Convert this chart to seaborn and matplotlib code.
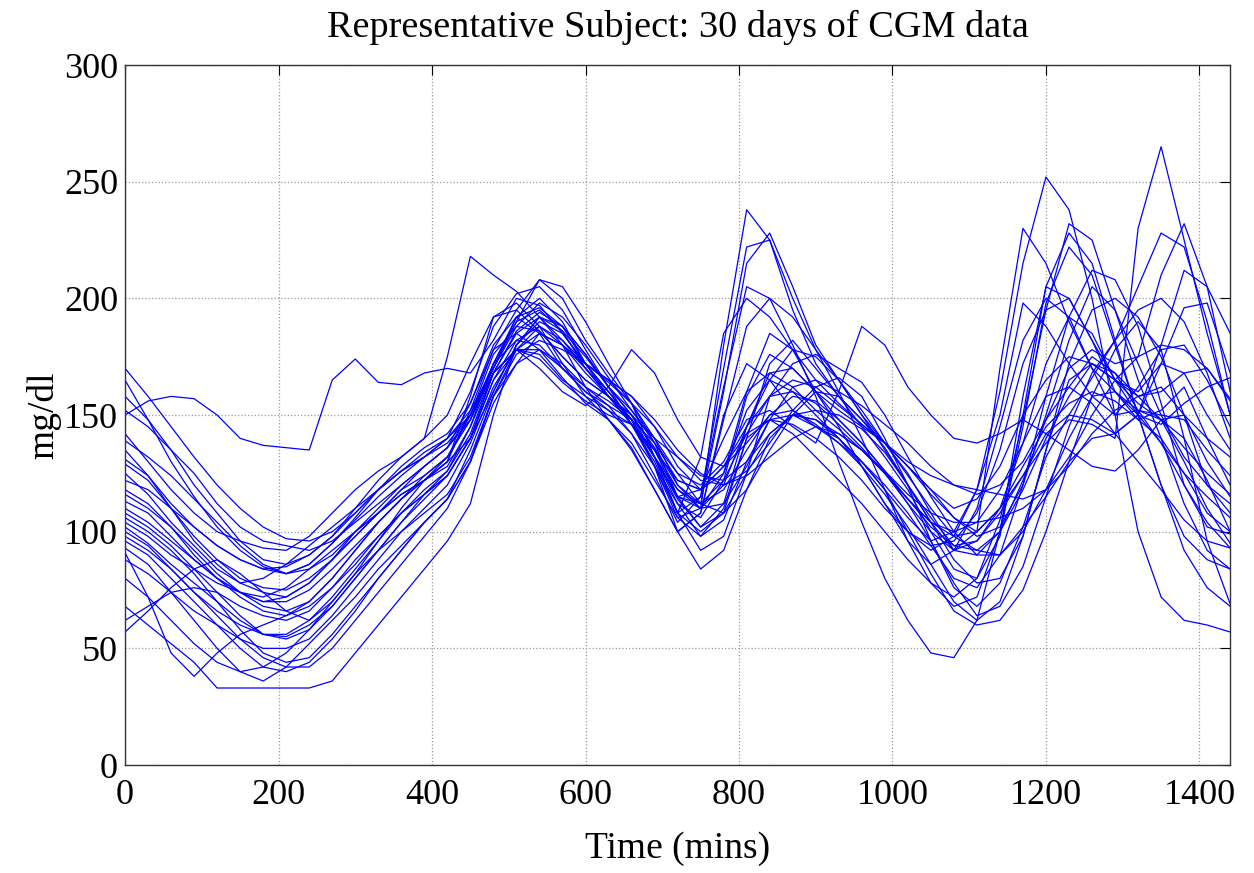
import numpy as np
import pandas as pd
import matplotlib
matplotlib.use("Agg")
import matplotlib.pyplot as plt
import seaborn as sns

# time grid (mins), one reading every 30 mins
time_mins = list(range(0, 1441, 30))

# glucose readings (mg/dl), one list per day
day01 = [170,158,145,132,120,110,102,97, 96,100,108,118,128,136,142,155, 180,192,185,170,160,152,142,128,
         112,106,122,158,176,170,160,152, 145,138,128,116,106,100,110,138, 172,192,185,165,150,146,155,162, 166]
day02 = [150,156,158,157,150,140,137,136, 135,165,174,164,163,168,170,168, 182,200,197,185,172,165,158,145,
         128,118,125,160,185,178,165,155, 146,138,128,118,110,114,128,150, 165,175,172,165,160,172,168,150, 135]
day03 = [165,148,130,115,102,92,85,82, 86,95,105,115,124,132,140,152, 170,190,208,200,182,168,155,138,
         115,102,108,140,172,182,170,158, 148,138,128,118,106,98,102,120, 150,182,205,195,172,150,132,120, 112]
day04 = [158,148,135,120,108,96,88,86, 90,98,110,122,132,140,150,172, 192,195,186,175,165,158,150,135,
         115,112,160,215,228,205,180,165, 150,138,125,108,92,100,170,230, 215,190,170,160,150,138,125,115, 106]
day05 = [152,145,135,125,112,102,96,94, 92,96,104,112,120,128,136,148, 168,178,178,170,162,156,148,132,
         118,110,112,128,148,162,165,160, 154,146,138,128,120,116,120,130, 148,162,175,168,158,160,168,170, 156]
day06 = [142,130,118,108,100,96,93,92, 98,108,118,126,132,140,175,218, 210,203,192,182,172,165,155,140,
         120,110,125,152,165,160,150,140, 130,118,106,96,100,118,150,198, 188,172,158,150,162,178,180,165, 145]
day07 = [139,132,124,114,104,94,86,82, 84,90,100,108,116,122,130,140, 160,180,192,188,176,162,152,140,
         125,112,108,118,135,150,160,158, 148,136,120,104,92,90,100,122, 148,170,178,172,175,210,232,205, 160]
day08 = [135,124,110,96,86,78,74,72, 78,88,100,110,120,128,136,155, 178,185,178,166,155,148,138,122,
         106,110,180,238,225,195,172,158, 145,132,118,100,84,80,98,150, 205,200,182,160,148,152,162,140, 120]
day09 = [131,124,112,102,94,88,84,82, 86,95,106,118,126,132,138,150, 170,192,200,190,172,158,146,132,
         114,102,112,145,168,170,160,148, 138,126,114,104,98,100,110,124, 138,148,146,140,230,265,225,185, 150]
day10 = [129,122,110,98,88,80,76,75, 80,88,98,108,118,128,136,150, 172,190,195,186,170,158,146,130,
         108,115,162,205,200,180,158,130, 104,80,62,48,46,62,100,158, 205,228,215,182,150,120,92,76, 68]
day11 = [125,116,104,94,84,78,80,86, 94,102,110,118,126,132,140,160, 188,202,205,195,178,162,146,128,
         108,132,185,200,192,178,160,145, 128,112,100,92,98,118,160,215, 252,238,200,150,100,72,62,60, 57]
day12 = [122,118,110,102,94,88,84,85, 90,98,108,118,126,134,140,150, 168,178,176,165,158,152,146,135,
         122,118,128,145,158,165,162,154, 146,138,130,124,120,118,116,114, 118,128,142,152,158,162,150,140, 132]
day13 = [118,112,102,90,80,72,66,64, 70,80,92,104,114,122,130,158, 192,198,188,172,158,148,136,118,
         100,108,148,188,200,192,178,165, 152,138,124,110,98,92,90,100, 118,140,158,160,152,150,148,135, 124]
day14 = [116,110,102,92,82,74,70,72, 78,88,98,108,118,124,132,150, 176,188,186,175,165,158,150,140,
         132,122,120,126,138,152,162,166, 158,140,120,96,76,68,78,102, 132,150,166,182,205,228,222,190, 150]
day15 = [113,108,98,88,80,74,68,66, 70,80,92,104,114,122,130,152, 178,195,208,205,190,172,155,132,
         108,100,108,125,142,150,148,142, 135,125,112,96,78,64,68,85, 115,145,168,182,195,200,190,168, 140]
day16 = [110,104,96,88,80,74,72,76, 84,92,100,108,116,122,128,145, 168,178,174,164,156,150,146,135,
         118,112,122,142,158,160,155,146, 136,125,114,104,100,104,118,138, 158,162,155,142,130,118,105,96, 93]
day17 = [108,102,94,84,74,64,56,54, 58,68,80,92,104,114,124,140, 165,178,170,160,154,162,178,168,
         148,132,128,138,150,152,146,138, 130,120,108,94,80,76,90,120, 158,192,212,208,188,155,120,102, 99]
day18 = [106,100,92,82,70,58,48,44, 46,56,68,80,92,104,114,135, 160,180,190,185,172,160,148,132,
         115,110,120,145,165,178,175,165, 150,135,120,104,88,78,80,98, 135,172,195,200,192,175,150,120, 108]
day19 = [104,98,90,84,78,74,70,70, 75,84,94,104,114,124,132,148, 172,182,180,170,160,154,148,138,
         125,120,130,148,152,145,138,160, 188,180,162,150,140,138,142,148, 142,135,128,126,135,148,150,130, 115]
day20 = [102,95,86,78,70,62,56,55, 60,68,80,92,104,116,126,145, 172,192,196,188,172,160,148,128,
         106,98,110,140,148,142,132,122, 112,100,88,78,72,80,105,148, 195,232,225,195,165,140,112,92, 84]
day21 = [100,94,84,74,64,54,46,42, 42,50,62,74,86,98,110,130, 158,178,188,182,170,158,148,132,
         112,98,105,130,148,150,145,138, 128,116,102,86,70,62,70,98, 135,165,172,165,155,148,140,122, 100]
day22 = [98,92,84,74,66,60,56,56, 62,72,84,96,108,118,126,142, 168,185,192,186,175,162,150,132,
         108,92,98,125,158,172,176,170, 164,150,132,115,100,90,90,102, 115,130,140,142,150,180,212,205, 185]
day23 = [96,90,80,70,60,50,42,40, 44,54,66,80,92,104,114,130, 155,172,185,180,170,160,148,128,
         100,84,92,118,140,150,152,150, 144,134,120,106,94,92,100,118, 140,158,172,168,152,138,120,104, 93]
day24 = [93,86,74,62,50,40,36,42, 52,62,72,84,94,104,114,130, 158,172,178,172,162,154,142,124,
         104,115,170,222,225,200,178,160, 140,118,96,78,68,72,100,145, 198,222,210,180,150,120,98,88, 84]
day25 = [91,72,48,38,48,56,60,64, 68,76,86,98,108,116,124,140, 165,182,188,180,168,158,148,132,
         115,118,140,160,168,162,152,144, 135,125,114,102,94,96,108,124, 142,150,148,142,150,172,196,198, 168]
day26 = [88,82,74,66,60,54,50,50, 54,64,76,88,100,110,120,138, 162,178,185,180,172,164,155,145,
         132,124,122,130,142,150,148,140, 130,118,100,82,66,60,62,75, 100,130,158,178,190,178,140,96, 69]
day27 = [80,72,62,52,44,40,42,48, 58,70,82,92,100,108,116,132, 158,176,182,178,172,165,158,148,
         135,125,120,124,132,140,145,142, 135,126,116,108,104,104,106,110, 118,132,150,165,175,180,178,170, 157]
day28 = [68,60,52,44,33,33,33,33, 33,36,48,60,72,84,96,112, 150,180,192,180,162,148,135,118,
         100,108,150,172,165,152,145,140, 128,112,96,86,92,110,145,182, 200,192,170,150,152,148,130,110, 95]
day29 = [62,68,74,76,74,68,64,62, 66,76,88,98,108,116,124,140, 168,186,194,188,176,162,150,136,
         120,112,118,135,150,158,156,148, 138,126,112,100,92,96,110,128, 145,155,160,156,148,140,125,108, 100]
day30 = [57,66,76,84,88,82,74,66, 62,70,82,96,110,122,132,148, 170,188,198,192,180,166,152,138,
         122,118,128,142,148,146,140,132, 122,110,100,94,96,108,135,172, 195,200,182,165,158,148,136,125, 116]

days = [day01, day02, day03, day04, day05, day06, day07, day08, day09, day10,
        day11, day12, day13, day14, day15, day16, day17, day18, day19, day20,
        day21, day22, day23, day24, day25, day26, day27, day28, day29, day30]

rows = []
for i, vals in enumerate(days):
    assert len(vals) == len(time_mins), (i + 1, len(vals))
    for t, v in zip(time_mins, vals):
        rows.append({"day": i + 1, "time": t, "glucose": v})
cgm_df = pd.DataFrame(rows)

sns.set_style("white")
plt.rcParams['font.family'] = ['Liberation Serif', 'DejaVu Serif']
plt.rcParams['text.color'] = 'black'
plt.rcParams['axes.labelcolor'] = 'black'
plt.rcParams['xtick.color'] = 'black'
plt.rcParams['ytick.color'] = 'black'

fig = plt.figure(figsize=(12.54, 8.73), dpi=100)
ax = fig.add_axes([0.0997, 0.1237, 0.8813, 0.8018])

sns.lineplot(data=cgm_df, x="time", y="glucose", units="day", estimator=None,
             color=(0, 0, 1), linewidth=0.9, ax=ax, legend=False)

ax.set_xlim(0, 1440)
ax.set_ylim(0, 300)
ax.set_xticks(range(0, 1401, 200))
ax.set_yticks(range(0, 301, 50))
ax.grid(True, linestyle=':', color='#999999', linewidth=0.9)
ax.tick_params(direction='in', top=True, right=True, length=7, labelsize=26, width=0.8)
ax.tick_params(axis='x', pad=10)
ax.tick_params(axis='y', pad=5)
for sp in ax.spines.values():
    sp.set_color('#333333')
    sp.set_linewidth(1.0)

ax.set_xlabel("Time (mins)", fontsize=27, labelpad=14)
ax.set_ylabel("mg/dl", fontsize=27, labelpad=2)
ax.set_title("Representative Subject: 30 days of CGM data", fontsize=27.5, pad=20)

fig.savefig("out.png", dpi=100)
